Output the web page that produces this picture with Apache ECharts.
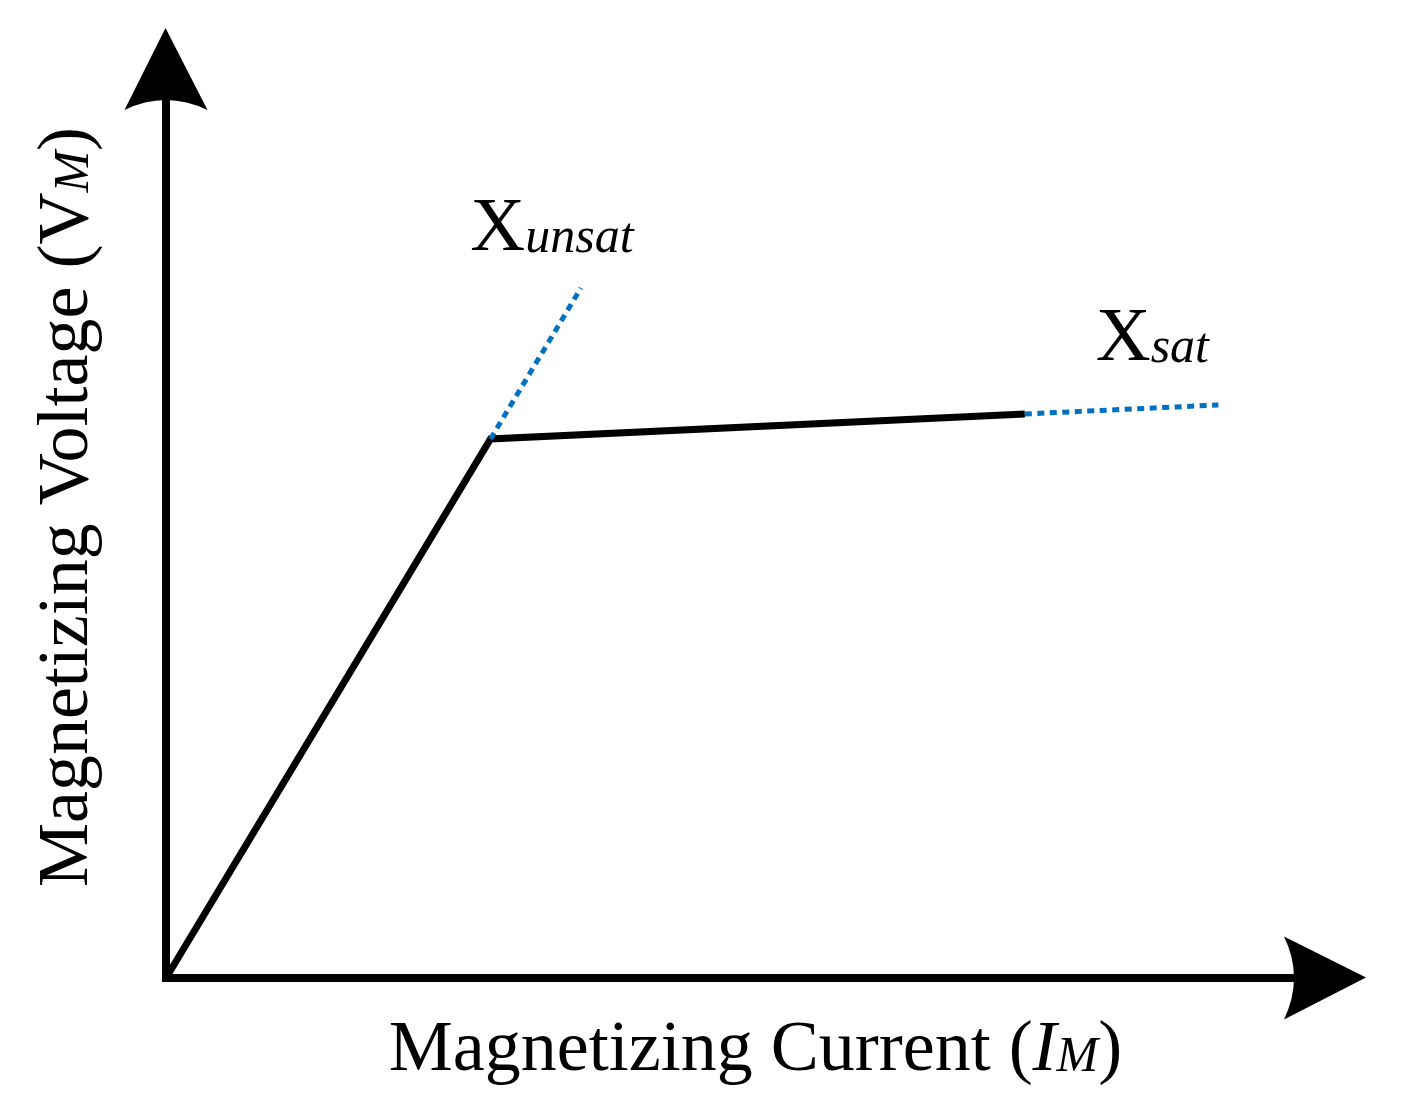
<!DOCTYPE html>
<html>
<head>
  <meta charset="utf-8">
  <title>Magnetizing curve</title>
  <script src="https://cdn.jsdelivr.net/npm/echarts@6.0.0/dist/echarts.min.js"></script>
</head>
<body style="margin:0; background:#fff;">
  <div id="main" style="width:1401px; height:1119px;"></div>
  <script type="text/javascript">
    // points, axis units 0..100
    const magnetizingCurve = [[0, 0], [28, 59.3], [74.1, 62.05]];
    const unsatExtension = [[28, 59.3], [35.8, 75.9]];
    const satExtension = [[74.1, 62.05], [90.8, 63.04]];
    const labelUnsat = 'unsat';
    const labelSat = 'sat';

    const serif = 'Liberation Serif';
    const blue = '#0070C0';
    // arrow head with a curved base, pointing up
    const arrowHead = 'path://M41,0 L83,82 Q41,62 0,82 Z';

    var myChart = echarts.init(document.getElementById('main'));

    const axisLine = {
      lineStyle: { color: '#000', width: 8, cap: 'square' },
      symbol: ['none', arrowHead],
      symbolSize: [83, 82]
    };

    const subLabel = (sub) => ({
      show: true,
      formatter: `{x|X}{s|${sub}}`,
      rich: {
        x: { fontFamily: serif, fontSize: 76, color: '#000', verticalAlign: 'bottom' },
        s: { fontFamily: serif, fontSize: 50, fontStyle: 'italic', color: '#000', verticalAlign: 'bottom', padding: [0, 0, 4, 0] }
      }
    });

    var option = {
      animation: false,
      grid: { left: 166, right: 76, top: 69, bottom: 141 },
      xAxis: {
        type: 'value',
        min: 0,
        max: 100,
        name: 'Magnetizing Current ({i|I}{m|M})',
        nameLocation: 'middle',
        nameGap: 37,
        nameTextStyle: {
          fontFamily: serif, fontSize: 72, color: '#000',
          padding: [0, 0, 0, 20],
          rich: {
            i: { fontFamily: serif, fontSize: 72, fontStyle: 'italic', color: '#000', verticalAlign: 'bottom' },
            m: { fontFamily: serif, fontSize: 50, fontStyle: 'italic', color: '#000', verticalAlign: 'bottom', padding: [0, 0, 4, 0] }
          }
        },
        axisLine: axisLine,
        axisTick: { show: false },
        axisLabel: { show: false },
        splitLine: { show: false }
      },
      yAxis: {
        type: 'value',
        min: 0,
        max: 100,
        name: 'Magnetizing Voltage (V{m|M})',
        nameLocation: 'middle',
        nameGap: 62,
        nameTextStyle: {
          fontFamily: serif, fontSize: 72, color: '#000',
          padding: [0, 0, 0, 33],
          rich: {
            m: { fontFamily: serif, fontSize: 50, fontStyle: 'italic', color: '#000', verticalAlign: 'bottom', padding: [0, 0, 4, 0] }
          }
        },
        axisLine: axisLine,
        axisTick: { show: false },
        axisLabel: { show: false },
        splitLine: { show: false }
      },
      series: [
        {
          type: 'line',
          data: unsatExtension,
          symbol: 'none',
          lineStyle: { color: blue, width: 5, type: [7, 5.5] },
          endLabel: Object.assign(subLabel(labelUnsat), { offset: [-37, -20], align: 'center', verticalAlign: 'bottom' }),
          z: 3
        },
        {
          type: 'line',
          data: satExtension,
          symbol: 'none',
          lineStyle: { color: blue, width: 5, type: [7, 5.5] },
          endLabel: Object.assign(subLabel(labelSat), { offset: [-74, -27], align: 'center', verticalAlign: 'bottom' }),
          z: 3
        },
        {
          type: 'line',
          data: magnetizingCurve,
          symbol: 'none',
          lineStyle: { color: '#000', width: 7, join: 'miter' },
          z: 2
        }
      ]
    };

    myChart.setOption(option);
  </script>
</body>
</html>
